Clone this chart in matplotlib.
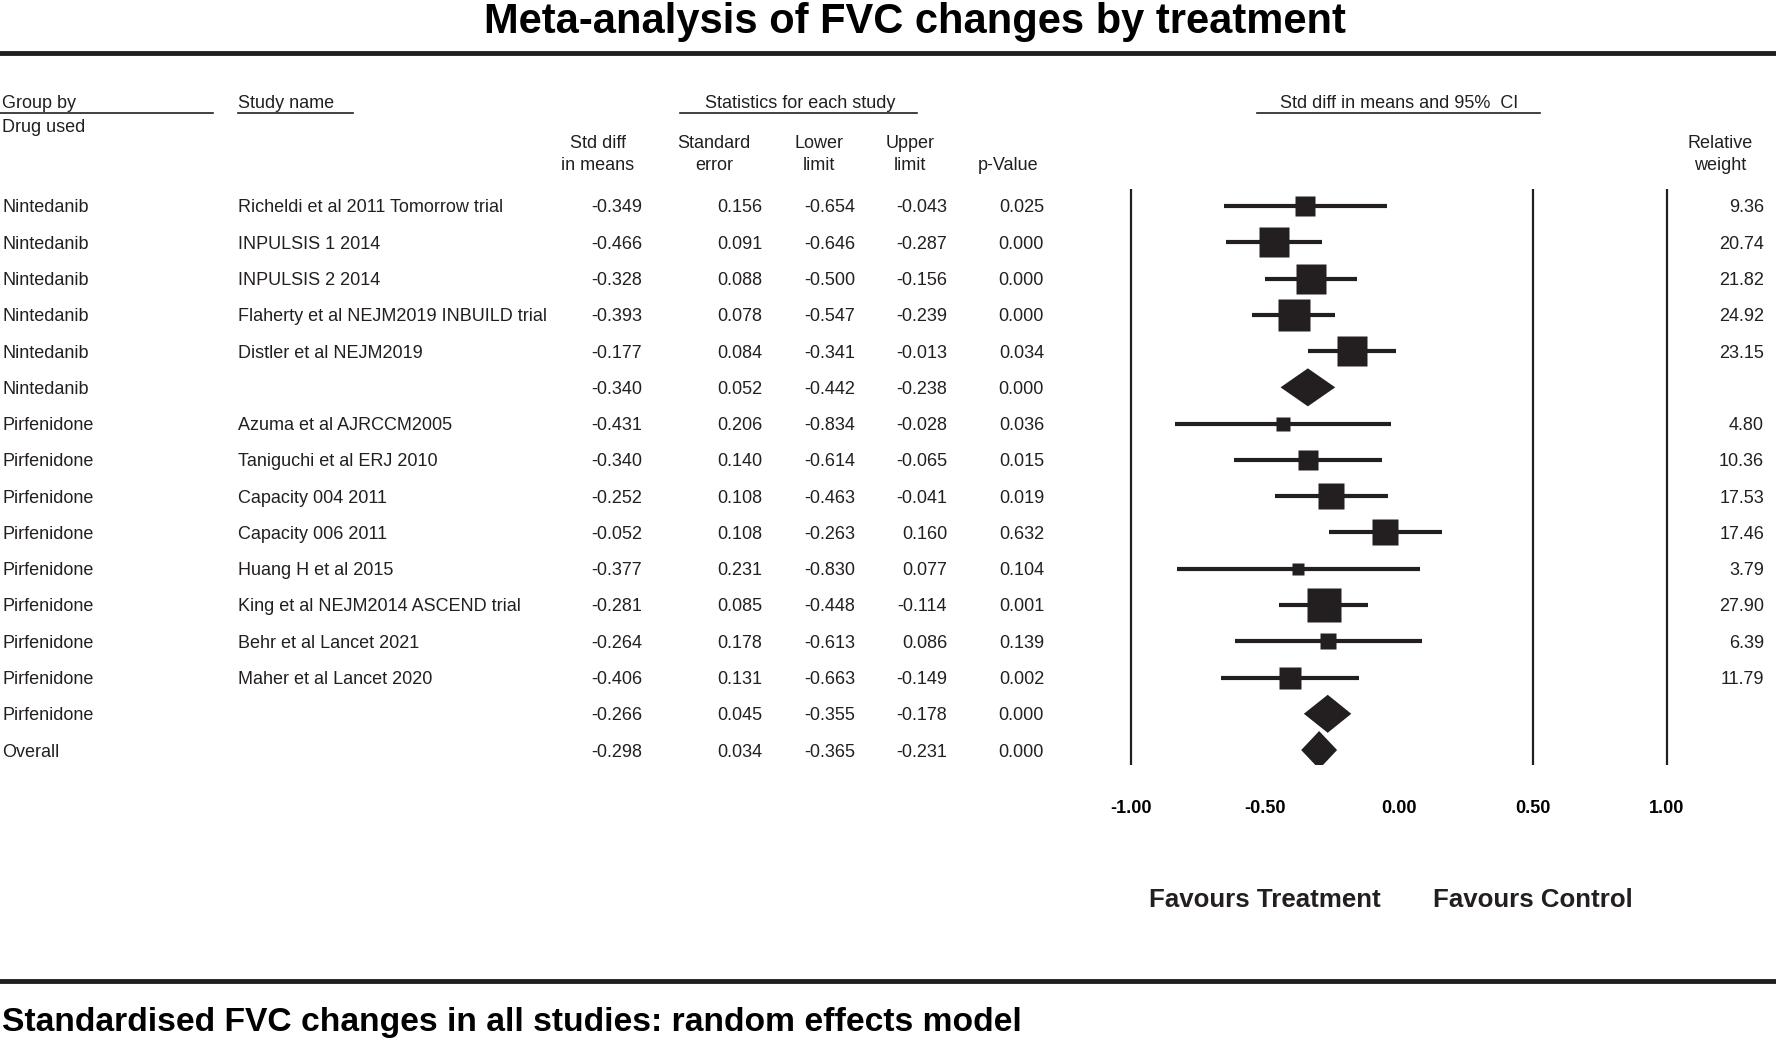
import numpy as np
import matplotlib
matplotlib.use("Agg")
import matplotlib.pyplot as plt
from matplotlib.patches import Polygon
from matplotlib.transforms import blended_transform_factory

plt.rcParams['font.family'] = ['Liberation Sans', 'DejaVu Sans']

# dados
groups = ["Nintedanib"] * 6 + ["Pirfenidone"] * 9 + ["Overall"]
studies = ["Richeldi et al 2011 Tomorrow trial", "INPULSIS 1 2014", "INPULSIS 2 2014",
           "Flaherty et al NEJM2019 INBUILD trial", "Distler et al NEJM2019", "",
           "Azuma et al AJRCCM2005", "Taniguchi et al ERJ 2010", "Capacity 004 2011",
           "Capacity 006 2011", "Huang H et al 2015", "King et al NEJM2014 ASCEND trial",
           "Behr et al Lancet 2021", "Maher et al Lancet 2020", "", ""]
std_diff = [-0.349, -0.466, -0.328, -0.393, -0.177, -0.340,
            -0.431, -0.340, -0.252, -0.052, -0.377, -0.281, -0.264, -0.406, -0.266, -0.298]
std_err = [0.156, 0.091, 0.088, 0.078, 0.084, 0.052,
           0.206, 0.140, 0.108, 0.108, 0.231, 0.085, 0.178, 0.131, 0.045, 0.034]
lower = [-0.654, -0.646, -0.500, -0.547, -0.341, -0.442,
         -0.834, -0.614, -0.463, -0.263, -0.830, -0.448, -0.613, -0.663, -0.355, -0.365]
upper = [-0.043, -0.287, -0.156, -0.239, -0.013, -0.238,
         -0.028, -0.065, -0.041, 0.160, 0.077, -0.114, 0.086, -0.149, -0.178, -0.231]
p_value = [0.025, 0.000, 0.000, 0.000, 0.034, 0.000,
           0.036, 0.015, 0.019, 0.632, 0.104, 0.001, 0.139, 0.002, 0.000, 0.000]
weight = [9.36, 20.74, 21.82, 24.92, 23.15, None,
          4.80, 10.36, 17.53, 17.46, 3.79, 27.90, 6.39, 11.79, None, None]
ticks = [-1.0, -0.5, 0.0, 0.5, 1.0]
ref_lines = [-1.0, 0.5, 1.0]

W, H = 1776, 1041
fig = plt.figure(figsize=(W / 100, H / 100), dpi=100)

# eixo de fundo em pixels
bg = fig.add_axes([0, 0, 1, 1])
bg.set_xlim(0, W)
bg.set_ylim(H, 0)
bg.axis("off")

row0, dy = 206, 36.27
n = len(groups)
ys = [row0 + i * dy for i in range(n)]
txt_off = 2  # texto centralizado fica um pouco alto

# titulo e linhas grossas
bg.text(915, 22, "Meta-analysis of FVC changes by treatment", fontsize=30, fontweight="bold",
        ha="center", va="center")
bg.plot([0, W], [53, 53], color="#231f20", lw=3.5)
bg.plot([0, W], [981, 981], color="#231f20", lw=3.5)
bg.text(2, 1023, "Standardised FVC changes in all studies: random effects model", fontsize=24.2,
        fontweight="bold", ha="left", va="center")

# cabecalhos
hkw = dict(fontsize=13, va="center", color="#231f20")
bg.text(2, 104, "Group by", ha="left", **hkw)
bg.plot([0, 213], [113, 113], color="#231f20", lw=1.2)
bg.text(2, 127, "Drug used", ha="left", **hkw)
bg.text(238, 104, "Study name", ha="left", **hkw)
bg.plot([238, 353], [113, 113], color="#231f20", lw=1.2)
bg.text(800, 104, "Statistics for each study", ha="center", **hkw)
bg.plot([680, 917], [113, 113], color="#231f20", lw=1.2)
bg.text(1399, 104, "Std diff in means and 95%  CI", ha="center", **hkw)
bg.plot([1257, 1540], [113, 113], color="#231f20", lw=1.2)
col_heads = [(598, "Std diff", "in means"), (714, "Standard", "error"), (819, "Lower", "limit"),
             (910, "Upper", "limit"), (1008, "", "p-Value"), (1720, "Relative", "weight")]
for x, l1, l2 in col_heads:
    bg.text(x, 144, l1, ha="center", **hkw)
    bg.text(x, 166, l2, ha="center", **hkw)

# linhas da tabela
rkw = dict(fontsize=13, va="center", color="#231f20")
col_x = [642, 762, 855, 947, 1044]
for i in range(n):
    y = ys[i] + txt_off
    bg.text(2, y, groups[i], ha="left", **rkw)
    bg.text(238, y, studies[i], ha="left", **rkw)
    vals = [std_diff[i], std_err[i], lower[i], upper[i], p_value[i]]
    for x, v in zip(col_x, vals):
        bg.text(x, y, "%.3f" % v, ha="right", **rkw)
    if weight[i] is not None:
        bg.text(1764, y, "%.2f" % weight[i], ha="right", **rkw)

# forest plot
x_l, x_r = 1100, 1700
px_per_unit = (1667 - 1131) / 2.0
y_top, y_bot = 189, 765
ax = fig.add_axes([x_l / W, 1 - y_bot / H, (x_r - x_l) / W, (y_bot - y_top) / H])
ax.set_xlim(-1 - (1131 - x_l) / px_per_unit, 1 + (x_r - 1667) / px_per_unit)
ax.set_ylim((y_bot - row0) / dy, (y_top - row0) / dy)
for s in ax.spines.values():
    s.set_visible(False)
ax.set_yticks([])
ax.set_xticks(ticks)
ax.set_xticklabels(["%.2f" % t for t in ticks], fontsize=13, fontweight="bold")
ax.tick_params(axis="x", length=0, pad=25)
ax.set_facecolor("none")

for xv in ref_lines:
    ax.axvline(xv, color="#231f20", lw=1.6)

for i in range(n):
    if weight[i] is not None:
        ax.plot([lower[i], upper[i]], [i, i], color="#231f20", lw=3.0, solid_capstyle="butt")
        side = 6.4 * np.sqrt(weight[i]) * 0.72
        ax.plot(std_diff[i], i, marker="s", ms=side, color="#231f20", mec="none")
    else:
        h = 19 / dy
        d = Polygon([(lower[i], i), (std_diff[i], i - h), (upper[i], i), (std_diff[i], i + h)],
                    closed=True, facecolor="#231f20", edgecolor="none")
        ax.add_patch(d)

tr = blended_transform_factory(ax.transData, bg.transData)
fav_kw = dict(fontsize=18.6, fontweight="bold", ha="center", va="center", color="#231f20")
ax.text(-0.5, 900, "Favours Treatment", transform=tr, **fav_kw)
ax.text(0.5, 900, "Favours Control", transform=tr, **fav_kw)

fig.savefig("out.png", dpi=100)
